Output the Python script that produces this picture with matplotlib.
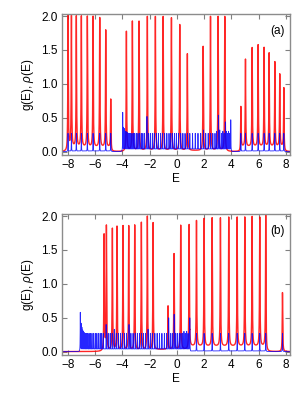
import numpy as np
import matplotlib
matplotlib.use("Agg")
import matplotlib.pyplot as plt

plt.rcParams['font.family'] = ['Liberation Sans', 'DejaVu Sans']
plt.rcParams['font.size'] = 8.5
plt.rcParams['mathtext.fontset'] = 'custom'
plt.rcParams['mathtext.it'] = 'Liberation Sans:italic'

# panel (a): red peaks rho(E)
red_a_E = [-8.0, -7.75, -7.39, -7.02, -6.58, -6.16, -5.67, -5.23, -4.86,
           -3.71, -3.27, -2.78, -2.17, -1.58, -1.01, -0.40, 0.21, 0.77,
           1.93, 2.47, 3.03, 3.52,
           4.70, 5.04, 5.53, 5.97, 6.41, 6.78, 7.20, 7.56, 7.86]
red_a_h = [2.0, 2.0, 2.0, 2.0, 2.0, 2.0, 1.98, 1.80, 0.72,
           1.78, 1.93, 1.93, 2.0, 2.0, 2.0, 1.98, 1.88, 1.45,
           1.56, 2.0, 2.0, 2.0,
           0.67, 1.37, 1.54, 1.58, 1.54, 1.46, 1.33, 1.15, 0.88]
# bands: start, end, floor level
red_a_bands = [(-8.0, -4.86, 0.06), (-3.75, 3.56, 0.015), (4.70, 7.86, 0.07)]

# panel (a): blue peaks g(E)
blue_a_E = [-8.0, -7.75, -7.39, -7.02, -6.58, -6.16, -5.67, -5.23, -4.86,
            -3.98, -3.92, -3.86, -3.80, -3.74, -3.68, -3.62, -3.55, -3.48, -3.40,
            -3.30, -3.20, -3.10, -2.98, -2.86, -2.74, -2.62, -2.50, -2.38,
            -2.20, -2.08, -1.95, -1.80, -1.66, -1.50, -1.36, -1.20, -1.05,
            -0.90, -0.74, -0.58, -0.45, -0.32, -0.18, -0.04, 0.12, 0.28,
            0.44, 0.60, 0.78, 0.95, 1.15, 1.35, 1.55, 1.75, 1.95, 2.12,
            2.30, 2.48, 2.64, 2.80, 2.92, 3.05, 3.15, 3.27, 3.38, 3.48,
            3.56, 3.64, 3.72, 3.80, 3.88, 3.96,
            4.70, 5.04, 5.53, 5.97, 6.41, 6.78, 7.20, 7.56, 7.86]
blue_a_h = [0.27, 0.27, 0.27, 0.27, 0.27, 0.27, 0.27, 0.27, 0.27,
            0.58, 0.36, 0.34, 0.30, 0.30, 0.28, 0.28, 0.27, 0.27, 0.27,
            0.27, 0.27, 0.27, 0.27, 0.27, 0.27, 0.27, 0.27, 0.27,
            0.52, 0.27, 0.27, 0.27, 0.27, 0.27, 0.27, 0.27, 0.27,
            0.27, 0.27, 0.27, 0.27, 0.27, 0.27, 0.27, 0.27, 0.27,
            0.27, 0.27, 0.27, 0.27, 0.27, 0.27, 0.27, 0.27, 0.32, 0.27,
            0.27, 0.27, 0.27, 0.27, 0.30, 0.54, 0.32, 0.27, 0.30, 0.27,
            0.44, 0.30, 0.27, 0.30, 0.27, 0.47,
            0.27, 0.27, 0.27, 0.27, 0.27, 0.27, 0.27, 0.27, 0.27]
blue_a_bands = [(-8.0, -4.86, 0.01), (-3.98, 3.96, 0.04), (4.70, 7.86, 0.01)]

# panel (b): red peaks rho(E)
red_b_E = [-5.35, -5.18, -4.74, -4.40, -3.96, -3.54, -3.10, -2.61, -2.17, -1.75,
           -0.65, -0.21, 0.28, 0.90,
           1.44, 2.00, 2.59, 3.20, 3.81, 4.43, 4.99, 5.53, 6.09, 6.53, 7.76]
red_b_h = [1.72, 1.85, 1.82, 1.85, 1.86, 1.86, 1.87, 1.91, 2.0, 1.90,
           0.68, 1.45, 1.87, 1.88,
           1.94, 1.97, 1.98, 1.98, 1.99, 1.99, 1.99, 2.0, 1.99, 1.95, 0.88]
red_b_bands = [(-5.35, -1.75, 0.015), (-1.75, 0.95, 0.03), (0.95, 6.53, 0.075)]

# panel (b): blue peaks g(E)
blue_b_E = [-7.10, -7.04, -6.98, -6.92, -6.86, -6.80, -6.72, -6.64, -6.55,
            -6.45, -6.35, -6.24, -6.12, -6.00, -5.88, -5.76, -5.64, -5.52,
            -5.40, -5.20, -5.05, -4.90, -4.75, -4.60, -4.45, -4.30, -4.15,
            -4.00, -3.85, -3.70, -3.52, -3.38, -3.22, -3.06, -2.90, -2.75,
            -2.60, -2.45, -2.30, -2.12, -1.95, -1.80, -1.62, -1.45, -1.28,
            -1.10, -0.92, -0.75, -0.60, -0.45, -0.32, -0.20, -0.08, 0.05,
            0.18, 0.30, 0.42, 0.52, 0.62, 0.72, 0.82, 0.95,
            1.44, 2.00, 2.59, 3.20, 3.81, 4.43, 4.99, 5.53, 6.09, 6.53, 7.76]
blue_b_h = [0.58, 0.42, 0.36, 0.32, 0.30, 0.28, 0.27, 0.27, 0.27,
            0.27, 0.27, 0.27, 0.27, 0.27, 0.27, 0.27, 0.27, 0.27,
            0.27, 0.40, 0.27, 0.27, 0.27, 0.33, 0.27, 0.27, 0.27,
            0.27, 0.27, 0.27, 0.40, 0.27, 0.27, 0.27, 0.27, 0.27,
            0.27, 0.27, 0.27, 0.33, 0.27, 0.27, 0.27, 0.27, 0.27,
            0.27, 0.27, 0.27, 0.50, 0.27, 0.27, 0.55, 0.27, 0.27,
            0.27, 0.27, 0.27, 0.30, 0.27, 0.30, 0.27, 0.50,
            0.27, 0.27, 0.27, 0.27, 0.27, 0.27, 0.27, 0.27, 0.27, 0.27, 0.27]
blue_b_bands = [(-7.10, 0.95, 0.04), (0.95, 6.53, 0.01)]

E = np.linspace(-8.5, 8.3, 12000)


def floor(bands):
    y = np.zeros_like(E)
    for lo, hi, lev in bands:
        y[(E >= lo) & (E <= hi)] = lev
    return y


def blue_spectrum(pos, h, bands, g=0.01):
    y = floor(bands)
    for p, a in zip(pos, h):
        y = np.maximum(y, a * g**2 / ((E - p)**2 + g**2))
    return y


def red_spectrum(pos, h, bands, g=0.02):
    base = floor(bands)
    y = base.copy()
    for p, a in zip(pos, h):
        lev = base[np.argmin(abs(E - p))]
        y += (a - lev - 0.01) * g**2 / ((E - p)**2 + g**2)
    return y


fig = plt.figure(figsize=(3.08, 4.0), dpi=100)
ax_a = fig.add_axes([0.201, 0.6125, 0.740, 0.3525])
ax_b = fig.add_axes([0.201, 0.1125, 0.740, 0.3525])

panels = [
    (ax_a, red_a_E, red_a_h, red_a_bands, blue_a_E, blue_a_h, blue_a_bands, '(a)'),
    (ax_b, red_b_E, red_b_h, red_b_bands, blue_b_E, blue_b_h, blue_b_bands, '(b)'),
]
for ax, rE, rh, rb, bE, bh, bb, lab in panels:
    red = red_spectrum(rE, rh, rb)
    blue = blue_spectrum(bE, bh, bb)
    ax.plot(E, red, color='#ff0000', lw=1.0, alpha=0.85)
    ax.plot(E, blue, color='#0000ff', lw=0.6, alpha=0.85)
    ax.set_xlim(-8.45, 8.3)
    ax.set_ylim(-0.05, 2.03)
    ax.set_xticks([-8, -6, -4, -2, 0, 2, 4, 6, 8])
    ax.set_yticks([0.0, 0.5, 1.0, 1.5, 2.0])
    ax.set_yticklabels(['0.0', '0.5', '1.0', '1.5', '2.0'])
    ax.set_xticklabels(['\u22128', '\u22126', '\u22124', '\u22122', '0', '2', '4', '6', '8'])
    ax.tick_params(direction='in', top=True, right=True, length=3.5,
                   width=0.8, color='0.5', pad=3)
    for s in ax.spines.values():
        s.set_color('0.55')
        s.set_linewidth(1.0)
    ax.set_xlabel('E', labelpad=1)
    ax.set_ylabel(r'g(E), $\rho$(E)', labelpad=4)
    ax.text(7.9, 1.78, lab, ha='right', va='center')

fig.savefig('out.png', dpi=100)
